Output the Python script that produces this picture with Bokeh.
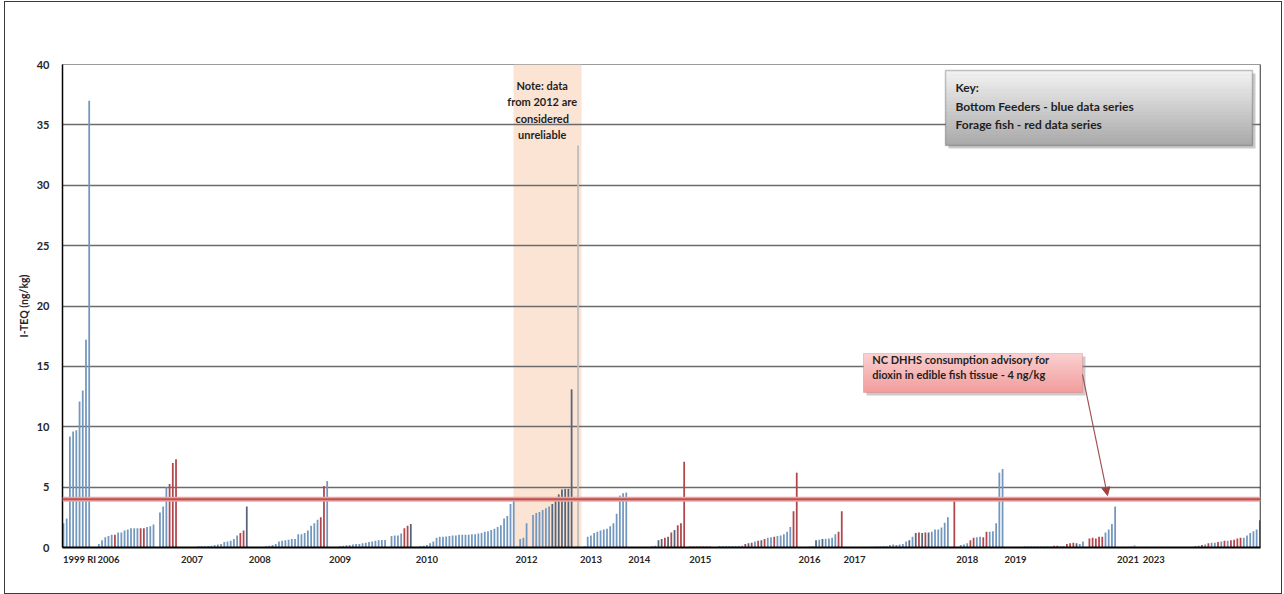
from bokeh.plotting import figure
from bokeh.models import (Range1d, FixedTicker, Span, BoxAnnotation, Label,
                          Arrow, NormalHead, ColumnDataSource)
from bokeh.embed import file_html
from bokeh.resources import INLINE

NA = float("nan")

# ---------------- data (I-TEQ, ng/kg); NA = blank category slot ----------------
# species codes: b = bottom feeder (blue), f = forage fish (red),
#                s = bottom feeder (dark shade), g = unreliable/light, - = blank
v_1999 = [2.0, 2.4, 9.2, 9.6, 9.7, 12.1, 13.0, 17.2, 37.0, NA, NA]
s_1999 = "bbbbbbbbb--"

v_2006 = [0.3, 0.6, 0.85, 0.95, 1.05, 1.05, 1.25, 1.25, 1.4, 1.5, 1.6, 1.6, 1.6, 1.6,
          1.6, 1.7, 1.75, 1.9, NA, 2.9, 3.4, 5.0, 5.25, 7.0, 7.3, NA, NA, NA, NA, NA, NA]
s_2006 = "bbbbbfbbbbbbbffbbb" + "-" + "bbbfff" + "------"

v_2007 = [0.1, 0.1, 0.1, 0.12, 0.15, 0.2, 0.25, 0.3, 0.45, 0.5, 0.55, 0.7, 1.0, 1.2,
          1.4, 3.4, NA, NA, NA, NA, NA]
s_2007 = "bbbbbbbbbbbbbffs" + "-----"

v_2008 = [0.1, 0.15, 0.2, 0.3, 0.5, 0.55, 0.6, 0.65, 0.7, 0.7, 1.1, 1.1, 1.2, 1.4,
          1.8, 2.0, 2.3, 2.5, 5.1, 5.5, NA, NA, NA]
s_2008 = "bbbbbbbbbbbbbbbbbffb" + "---"

v_2009 = [0.1, 0.15, 0.18, 0.2, 0.25, 0.28, 0.3, 0.35, 0.4, 0.45, 0.5, 0.55, 0.6,
          0.62, 0.63, NA, 0.95, 1.0, 1.0, 1.15, 1.6, 1.8, 1.95, NA]
s_2009 = "bbbbbbbbbbbbbbb-bbbbffs" + "-"

v_2010 = [0.05, 0.1, 0.15, 0.2, 0.35, 0.5, 0.8, 0.88, 0.9, 0.92, 0.95, 1.0, 1.0,
          1.05, 1.05, 1.05, 1.05, 1.1, 1.1, 1.15, 1.2, 1.3, 1.35, 1.45, 1.55, 1.7,
          1.85, 2.4, 2.6, 3.6, 3.9]
s_2010 = "bbbbbbbbbbbbbbbbbbbbbbbbbbbbbbb"

v_2012 = [0.1, 0.7, 0.8, 2.0, NA, 2.7, 2.85, 2.95, 3.1, 3.25, 3.4, 3.6, 4.0, 4.4,
          4.8, 4.85, 4.85, 13.1, NA, 33.3, NA]
s_2012 = "bbbb-" + "bbbbbbssssss" + "s-g-"

v_2013 = [0.1, 0.9, 1.0, 1.2, 1.3, 1.4, 1.5, 1.55, 1.75, 2.0, 2.8, 4.3, 4.5, 4.55,
          NA, NA, NA, NA, NA, NA, NA]
s_2013 = "bbbbbbbbbbbbbb" + "-------"

v_2014 = [0.1, 0.15, 0.6, 0.7, 0.8, 0.9, 1.25, 1.45, 1.85, 2.0, 7.1, NA]
s_2014 = "bbssfsfsfff" + "-"

v_2015 = [0.08, 0.08, 0.08, 0.08, 0.08, 0.08, 0.08, NA, NA,
          0.12, 0.12, 0.12, 0.12, 0.12, 0.12, 0.12, 0.15,
          0.3, 0.35, 0.4, 0.5, 0.55, 0.6, 0.7, 0.8, 0.85, 0.9, 0.95, 1.0, 1.1, 1.3,
          1.7, 3.0, 6.2, NA]
s_2015 = "fffffff" + "--" + "bbbbbbbb" + "fsfbfsfbbfbbbbbff" + "-"

v_2016 = [0.05, 0.05, 0.08, 0.1, 0.6, 0.65, 0.7, 0.72, 0.75, 0.8, 1.1, 1.3, 3.0,
          NA, NA, NA, NA, NA, NA]
s_2016 = "bbbbsbsbbbbff" + "------"

v_2017 = [0.05, 0.05, 0.06, 0.07, 0.08, 0.08, 0.1, 0.1, 0.2, 0.25, 0.2, 0.25, 0.3,
          0.5, 0.6, 0.9, 1.2, 1.25, 1.2, 1.25, 1.25, 1.3, 1.5, 1.5, 1.65, 2.05, 2.5, NA]
s_2017 = "bbbbbbbbbbbbbbsbsfsfsbbbbbb" + "-"

v_2018 = [4.1, 0.05, 0.2, 0.25, 0.35, 0.6, 0.8, 0.85, 0.9, 0.85, 1.3, 1.3, 1.35,
          2.0, 6.2, 6.5, NA]
s_2018 = "fbbbbffbbffbbbbb" + "-"

v_2019 = [0.05, 0.05, 0.05, 0.05, NA, 0.08, 0.08, 0.08, 0.08, 0.08, 0.08, 0.08, 0.08,
          0.08, 0.15, 0.15, 0.1, 0.12, 0.3, 0.35, 0.4, 0.35, 0.3, 0.5, NA, 0.75, 0.8,
          0.75, 0.9, 0.9, 1.25, 1.5, 1.95, 3.4, NA, NA, NA, NA]
s_2019 = "bbbb-" + "bbbbbbbbb" + "ff" + "bb" + "fffs" + "bb" + "-" + "fffff" + "bbbb" + "----"

v_2021 = [0.1, 0.2] + [NA] * 17
s_2021 = "gg" + "-" * 17

v_2023 = [0.05, 0.1, 0.15, 0.2, 0.25, 0.35, 0.4, 0.4, 0.45, 0.5, 0.55, 0.55, 0.6,
          0.65, 0.75, 0.8, 0.8, 1.0, 1.2, 1.35, 1.5, 2.25]
s_2023 = "ffbfbfbbfbfbffffbbbbbs"

tick_labels = ["1999 RI", "2006", "2007", "2008", "2009", "2010", "2012", "2013",
               "2014", "2015", "2016", "2017", "2018", "2019", "2021", "2023"]
tick_slots = [5, 14, 40, 61, 86, 113, 144, 164, 179, 198, 232, 246, 281, 296, 331, 339]

advisory_level = 4.0

# ---------------- assemble ----------------
groups = [(v_1999, s_1999), (v_2006, s_2006), (v_2007, s_2007), (v_2008, s_2008),
          (v_2009, s_2009), (v_2010, s_2010), (v_2012, s_2012), (v_2013, s_2013),
          (v_2014, s_2014), (v_2015, s_2015), (v_2016, s_2016), (v_2017, s_2017),
          (v_2018, s_2018), (v_2019, s_2019), (v_2021, s_2021), (v_2023, s_2023)]
values, codes = [], ""
for v, s in groups:
    assert len(v) == len(s), (len(v), len(s), s)
    values += v
    codes += s

PALETTE = {"b": "#7398bf", "f": "#b2464c", "s": "#56667a", "g": "#bdbdbd"}
xs, tops, cols = [], [], []
for i, (v, c) in enumerate(zip(values, codes)):
    if c == "-" or v != v:
        continue
    xs.append(i)
    tops.append(v)
    cols.append(PALETTE[c])
src = ColumnDataSource(dict(x=xs, top=tops, color=cols))

# ---------------- figure ----------------
OX, OY = 5, 2                      # canvas offset on the page (outer frame)
W, H = 1276, 591
BL, BR, BT, BB = 62 - OX, 21, 64 - OY, 46
X0, X1 = -0.3, len(values) - 0.8
Y0, Y1 = 0, 40
FONT = "Lato"

p = figure(width=W, height=H, x_range=Range1d(X0, X1), y_range=Range1d(Y0, Y1),
           output_backend="svg", toolbar_location=None,
           min_border_left=BL, min_border_right=BR, min_border_top=BT,
           min_border_bottom=BB,
           styles={"margin-left": "%dpx" % OX, "margin-top": "%dpx" % OY,
                   "outline": "1px solid #3a3a3a"})
p.background_fill_color = "white"
p.border_fill_color = "white"
p.outline_line_color = "#9a9a9a"
p.outline_line_width = 1

# page-pixel -> data helpers
FL, FR, FT, FB = OX + BL, OX + W - BR, OY + BT, OY + H - BB


def fx(px):
    return X0 + (px - FL) / (FR - FL) * (X1 - X0)


def fy(py):
    return Y0 + (FB - py) / (FB - FT) * (Y1 - Y0)


# shaded "unreliable" 2012 region (under grid)
p.add_layout(BoxAnnotation(left=fx(513), right=fx(581), fill_color="#fce4d4",
                           fill_alpha=1, line_color=None, level="image"))

# axes
p.yaxis.ticker = FixedTicker(ticks=list(range(0, 45, 5)))
p.ygrid.ticker = FixedTicker(ticks=list(range(5, 40, 5)))
p.ygrid.grid_line_color = "#6b6b6b"
p.ygrid.grid_line_width = 1.5
p.xgrid.grid_line_color = None

p.yaxis.axis_label = "I-TEQ (ng/kg)"
p.yaxis.axis_label_text_font = FONT
p.yaxis.axis_label_text_font_style = "bold"
p.yaxis.axis_label_text_font_size = "10.5px"
p.yaxis.axis_label_text_color = "#262626"
p.yaxis.axis_label_standoff = 4
p.yaxis.major_label_text_font = FONT
p.yaxis.major_label_text_font_style = "bold"
p.yaxis.major_label_text_font_size = "11px"
p.yaxis.major_label_text_color = "#262626"
p.yaxis.major_label_standoff = 13
p.yaxis.major_tick_out = 0
p.yaxis.major_tick_in = 0
p.yaxis.minor_tick_out = 0
p.yaxis.minor_tick_in = 0
p.yaxis.axis_line_color = "black"
p.yaxis.axis_line_width = 1.5

p.xaxis.ticker = FixedTicker(ticks=tick_slots)
p.xaxis.major_label_overrides = {t: lab for t, lab in zip(tick_slots, tick_labels)}
p.xaxis.major_label_text_font = FONT
p.xaxis.major_label_text_font_style = "bold"
p.xaxis.major_label_text_font_size = "9.5px"
p.xaxis.major_label_text_color = "#262626"
p.xaxis.major_label_standoff = 6
p.xaxis.major_tick_out = 0
p.xaxis.major_tick_in = 0
p.xaxis.minor_tick_out = 0
p.xaxis.minor_tick_in = 0
p.xaxis.axis_line_color = "black"
p.xaxis.axis_line_width = 2

# bars
p.vbar(x="x", top="top", bottom=0, width=0.55, fill_color="color", line_color=None,
       source=src)

# right frame edge
p.add_layout(Span(location=X1, dimension="height", line_color="#333333", line_width=1.5))

# advisory line
p.add_layout(Span(location=advisory_level, dimension="width", line_color="#eaa5a5",
                  line_width=5))
p.add_layout(Span(location=advisory_level, dimension="width", line_color="#c0504d",
                  line_width=2))


def hexmix(c0, c1, t):
    a = [int(c0[i:i + 2], 16) for i in (1, 3, 5)]
    b = [int(c1[i:i + 2], 16) for i in (1, 3, 5)]
    return "#" + "".join("%02x" % round(a[k] + (b[k] - a[k]) * t) for k in range(3))


def gradient_box(l, t, r, b, c_top, c_bot, border, bw=1.2, n=20):
    p.add_layout(BoxAnnotation(left=fx(l + 3), right=fx(r + 3), top=fy(t + 3),
                               bottom=fy(b + 3), fill_color="#8a8a8a", fill_alpha=0.45,
                               line_color=None))
    for i in range(n):
        tt = t + (b - t) * i / n
        bb = t + (b - t) * (i + 1) / n + 0.6
        p.add_layout(BoxAnnotation(left=fx(l), right=fx(r), top=fy(tt),
                                   bottom=fy(min(bb, b)),
                                   fill_color=hexmix(c_top, c_bot, (i + 0.5) / n),
                                   fill_alpha=1, line_color=None))
    p.add_layout(BoxAnnotation(left=fx(l), right=fx(r), top=fy(t), bottom=fy(b),
                               fill_alpha=0, line_color=border, line_width=bw))


def text(px, py, s, size="11px", align="left"):
    p.add_layout(Label(x=fx(px), y=fy(py), text=s, text_align=align,
                       text_baseline="middle", text_font=FONT, text_font_style="bold",
                       text_font_size=size, text_color="#1f1f1f"))


# note on 2012
for py, s in zip([85, 101, 117.5, 134],
                 ["Note: data", "from 2012 are", "considered", "unreliable"]):
    text(541.7, py, s, align="center")

# key box
gradient_box(945, 70, 1252, 145, "#f3f3f3", "#a8a8a8", "#404040", bw=1.5)
text(955, 87, "Key:", size="12px")
text(955, 105.5, "Bottom Feeders - blue data series", size="12px")
text(955, 124, "Forage fish - red data series", size="12px")

# advisory box
gradient_box(863, 353, 1082, 392, "#fbd0d0", "#f29c9c", "#d06a68", bw=1)
text(871.7, 358.5, "NC DHHS consumption  advisory for")
text(871.7, 373.5, "dioxin in edible fish tissue - 4 ng/kg")

p.add_layout(Arrow(end=NormalHead(size=8, fill_color="#a0413f", line_color="#a0413f"),
                   x_start=fx(1082), y_start=fy(374), x_end=fx(1107), y_end=fy(495),
                   line_color="#a0504f", line_width=1.2))

open("out.html", "w").write(file_html(p, INLINE))
